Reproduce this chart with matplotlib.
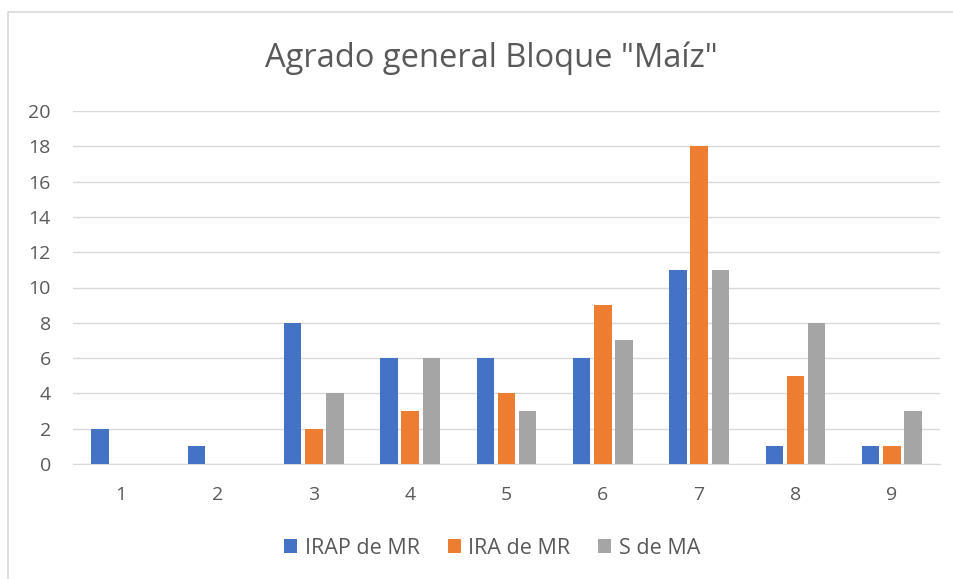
import numpy as np
import matplotlib.pyplot as plt
from matplotlib.lines import Line2D

plt.rcParams['font.family'] = ['Open Sans', 'DejaVu Sans']

categories = ['1', '2', '3', '4', '5', '6', '7', '8', '9']
irap = [2, 1, 8, 6, 6, 6, 11, 1, 1]
ira = [0, 0, 2, 3, 4, 9, 18, 5, 1]
s_ma = [0, 0, 4, 6, 3, 7, 11, 8, 3]
series = [("IRAP de MR", irap, "#4472C4"),
          ("IRA de MR", ira, "#ED7D31"),
          ("S de MA", s_ma, "#A5A5A5")]

fig = plt.figure(figsize=(9.54, 5.79), dpi=100)
ax = fig.add_axes([73 / 954, 1 - 464 / 579, 867 / 954, 353 / 579])

x = np.arange(1, len(categories) + 1)
width = 0.18
offset = 0.22
for i, (name, vals, col) in enumerate(series):
    ax.bar(x + (i - 1) * offset, vals, width, color=col, label=name, zorder=3)

ax.set_xlim(0.5, 9.5)
ax.set_ylim(0, 20)
ax.set_yticks(range(0, 21, 2))
ax.set_xticks(x)
ax.set_xticklabels(categories)
ax.grid(axis='y', color='#D9D9D9', linewidth=1, zorder=0)
for side in ['top', 'right', 'left']:
    ax.spines[side].set_visible(False)
ax.spines['bottom'].set_color('#D9D9D9')
ax.tick_params(length=0, labelsize=14, colors='#595959')
ax.tick_params(axis='y', pad=16)
ax.tick_params(axis='x', pad=16)

fig.text(0.515, 1 - 67 / 579, 'Agrado general Bloque "Maíz"', ha='center', va='baseline',
         fontsize=23.5, color='#595959')

ax.legend(loc='center', bbox_to_anchor=(492 / 954, 1 - 548 / 579), bbox_transform=fig.transFigure,
          ncol=3, frameon=False, fontsize=15.5, handlelength=0.62, handleheight=0.62,
          handletextpad=0.33, columnspacing=1.3, labelcolor='#595959')

# chart border (only top and left edges are inside the picture)
fig.add_artist(Line2D([8 / 954, 8 / 954, 1], [0, 1 - 12 / 579, 1 - 12 / 579],
                      transform=fig.transFigure, color='#D9D9D9', linewidth=1.2))

fig.savefig('out.png', dpi=100)
